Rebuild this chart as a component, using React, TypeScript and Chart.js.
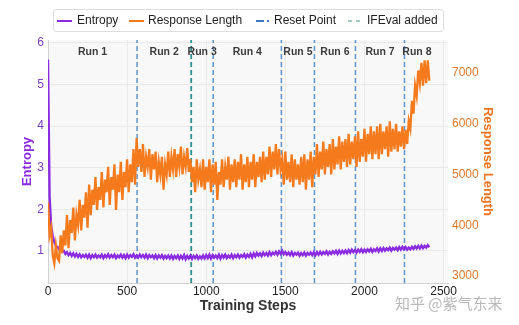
import React, { useEffect, useRef } from 'react';
import { Chart, registerables } from 'chart.js';

Chart.register(...registerables);

// ---- data ----
const STEP_INTERVAL = 10; // logged every 10 training steps, starting at step 0

const ENTROPY = [
  5.6, 2.3, 1.6, 1.35, 1.22, 1.12, 1.1, 1.04, 1.06, 0.98,
  1.0, 0.93, 0.97, 0.9, 0.95, 0.88, 0.94, 0.87, 0.93, 0.86,
  0.92, 0.85, 0.9, 0.86, 0.91, 0.84, 0.91, 0.83, 0.9, 0.85,
  0.91, 0.84, 0.89, 0.85, 0.91, 0.83, 0.9, 0.85, 0.92, 0.84,
  0.9, 0.85, 0.91, 0.83, 0.89, 0.85, 0.91, 0.84, 0.9, 0.83,
  0.91, 0.84, 0.9, 0.86, 0.92, 0.84, 0.89, 0.84, 0.91, 0.85,
  0.9, 0.84, 0.91, 0.83, 0.9, 0.85, 0.89, 0.83, 0.9, 0.82,
  0.89, 0.84, 0.9, 0.82, 0.88, 0.83, 0.89, 0.82, 0.89, 0.81,
  0.88, 0.83, 0.89, 0.81, 0.88, 0.82, 0.9, 0.8, 0.88, 0.82,
  0.89, 0.81, 0.88, 0.83, 0.89, 0.81, 0.87, 0.82, 0.89, 0.82,
  0.9, 0.83, 0.91, 0.82, 0.9, 0.84, 0.89, 0.83, 0.91, 0.82,
  0.9, 0.84, 0.91, 0.83, 0.89, 0.84, 0.91, 0.83, 0.9, 0.85,
  0.91, 0.84, 0.9, 0.86, 0.92, 0.84, 0.91, 0.86, 0.93, 0.85,
  0.94, 0.87, 0.95, 0.89, 0.94, 0.88, 0.96, 0.9, 0.95, 0.89,
  0.97, 0.9, 0.96, 0.92, 0.98, 0.91, 0.99, 0.93, 1.0, 0.92,
  0.97, 0.91, 0.96, 0.9, 0.97, 0.89, 0.95, 0.91, 0.96, 0.89,
  0.95, 0.9, 0.96, 0.89, 0.95, 0.91, 0.96, 0.9, 0.97, 0.9,
  0.97, 0.91, 0.98, 0.92, 0.97, 0.93, 0.99, 0.92, 0.98, 0.93,
  0.99, 0.94, 1.0, 0.93, 1.01, 0.94, 1.0, 0.95, 1.01, 0.95,
  1.02, 0.96, 1.03, 0.97, 1.02, 0.96, 1.03, 0.98, 1.04, 0.97,
  1.03, 0.98, 1.04, 0.99, 1.05, 0.98, 1.04, 1.0, 1.06, 0.99,
  1.06, 1.0, 1.07, 1.01, 1.06, 1.02, 1.08, 1.01, 1.07, 1.03,
  1.08, 1.02, 1.09, 1.03, 1.1, 1.04, 1.09, 1.03, 1.08, 1.04,
  1.1, 1.05, 1.11, 1.06, 1.12, 1.06, 1.13, 1.07, 1.12, 1.08,
  1.14, 1.09,
];

const RESPONSE_LENGTH = [
  4450, 3800, 3950, 3400, 3250, 3600, 3350, 3300, 3800, 3450,
  3900, 3600, 4200, 3550, 4100, 3850, 4350, 3700, 4200, 4000,
  4500, 3900, 4400, 4150, 4650, 3950, 4800, 4200, 4700, 4400,
  4950, 4300, 4750, 4500, 5050, 4350, 4900, 4650, 5150, 4400,
  4950, 4700, 5200, 4300, 5000, 4650, 5250, 4500, 5050, 4750,
  5300, 4650, 5200, 4850, 5500, 4800, 5720, 5150, 5500, 5050,
  5600, 4950, 5350, 5150, 5500, 4900, 5400, 5100, 5450, 4850,
  5250, 5000, 5350, 4700, 5200, 5000, 5450, 4950, 5350, 5100,
  5500, 4950, 5400, 5150, 5550, 5000, 5350, 5150, 5520, 5050,
  5300, 4850, 5150, 4650, 5300, 4900, 5100, 4750, 5300, 4700,
  5150, 4850, 5300, 4650, 5200, 4800, 5250, 4500, 5050, 4800,
  5300, 4750, 5150, 4900, 5350, 4700, 5200, 4850, 5300, 4750,
  5250, 4900, 5400, 4700, 5200, 4850, 5350, 4750, 5250, 4900,
  5400, 4750, 5250, 4950, 5350, 4850, 5450, 4900, 5350, 5000,
  5550, 4950, 5450, 5100, 5600, 5000, 5500, 5100, 5300, 4800,
  5450, 4900, 5250, 4850, 5400, 4750, 5300, 4900, 5200, 4800,
  5350, 4850, 5400, 4700, 5300, 4900, 5450, 4750, 5350, 5000,
  5600, 4950, 5450, 5100, 5650, 5000, 5500, 5150, 5600, 5000,
  5700, 5100, 5550, 5200, 5750, 5100, 5650, 5250, 5700, 5150,
  5800, 5200, 5650, 5300, 5750, 5150, 5850, 5250, 5700, 5350,
  5900, 5250, 5800, 5400, 5950, 5300, 5850, 5400, 5950, 5300,
  6000, 5400, 5850, 5500, 5950, 5350, 6050, 5450, 5900, 5500,
  6000, 5450, 5850, 5550, 5950, 5500, 5880, 5600, 6050, 5900,
  6450, 6200, 6750, 6550, 7050, 6800, 7200, 6750, 7250, 6800,
  7250, 6850,
];

const RESET_STEPS = [563, 1044, 1475, 1684, 1943, 2253];
const IFEVAL_STEPS = [905];
const RUN_LABELS = ['Run 1', 'Run 2', 'Run 3', 'Run 4', 'Run 5', 'Run 6', 'Run 7', 'Run 8'];
const RUN_BOUNDARIES = [0, 563, 905, 1044, 1475, 1684, 1943, 2253, 2410];

const X_TICKS = [0, 500, 1000, 1500, 2000, 2500];
const ENTROPY_TICKS = [1, 2, 3, 4, 5, 6];
const LENGTH_TICKS = [3000, 4000, 5000, 6000, 7000];
const X_RANGE = [0, 2528];
const ENTROPY_RANGE = [0.23, 6.07];
const LENGTH_RANGE = [2862, 7650];

const LEGEND_LABELS = ['Entropy', 'Response Length', 'Reset Point', 'IFEval added'];
const WATERMARK = '知乎 @紫气东来';

// ---- styles ----
const PURPLE = '#8a2be2';
const ORANGE = '#f57a1c';
const RESET_COLOR = 'rgba(74,138,196,0.9)';
const IFEVAL_COLOR = 'rgba(38,140,140,0.95)';
const FONT = "'Liberation Sans', Arial, sans-serif";

function vlineData(steps: number[]) {
  const pts: any[] = [];
  steps.forEach((s) => {
    pts.push({ x: s, y: ENTROPY_RANGE[0] });
    pts.push({ x: s, y: ENTROPY_RANGE[1] });
    pts.push({ x: s, y: null });
  });
  return pts;
}

const bgPlugin = {
  id: 'plotBg',
  beforeDraw(chart: any) {
    const { ctx, chartArea } = chart;
    ctx.save();
    ctx.fillStyle = '#f8f8f8';
    ctx.fillRect(chartArea.left, chartArea.top, chartArea.right - chartArea.left, chartArea.bottom - chartArea.top);
    ctx.restore();
  },
};

const runLabelPlugin = {
  id: 'runLabels',
  afterDatasetsDraw(chart: any) {
    const { ctx, chartArea, scales } = chart;
    ctx.save();
    ctx.font = `bold 10.5px ${FONT}`;
    ctx.fillStyle = '#3c3c3c';
    ctx.textAlign = 'center';
    ctx.textBaseline = 'middle';
    RUN_LABELS.forEach((lab, i) => {
      const mid = (RUN_BOUNDARIES[i] + RUN_BOUNDARIES[i + 1]) / 2;
      ctx.fillText(lab, scales.x.getPixelForValue(mid), chartArea.top + 12);
    });
    ctx.restore();
  },
};

function Legend() {
  const items = [
    { label: LEGEND_LABELS[0], color: PURPLE, dash: '', w: 2, lx: 57, tx: 77, op: 1 },
    { label: LEGEND_LABELS[1], color: ORANGE, dash: '', w: 2, lx: 129, tx: 148, op: 1 },
    { label: LEGEND_LABELS[2], color: '#3f78c0', dash: '8 3 2 10', w: 2, lx: 256, tx: 274, op: 1 },
    { label: LEGEND_LABELS[3], color: '#5aa9a0', dash: '4 4', w: 1.6, lx: 348, tx: 367, op: 0.8 },
  ];
  return (
    <div
      style={{
        position: 'absolute', left: 53, top: 9, width: 389, height: 21,
        border: '1px solid #dedede', borderRadius: 3, background: '#fff', boxSizing: 'content-box',
      }}
    >
      {items.map((it) => (
        <React.Fragment key={it.label}>
          <svg width={15} height={6} style={{ position: 'absolute', left: it.lx - 54, top: 8 }}>
            <line x1={0} y1={3} x2={15} y2={3} stroke={it.color} strokeWidth={it.w}
              strokeDasharray={it.dash || undefined} opacity={it.op} />
          </svg>
          <span
            style={{
              position: 'absolute', left: it.tx - 54, top: 0, height: 21, lineHeight: '21px',
              fontFamily: FONT, fontSize: 12, color: '#222', whiteSpace: 'nowrap',
            }}
          >
            {it.label}
          </span>
        </React.Fragment>
      ))}
    </div>
  );
}

const plainTick = (v: any) => String(v);

export default function App() {
  const canvasRef = useRef<HTMLCanvasElement | null>(null);

  useEffect(() => {
    const canvas = canvasRef.current;
    if (!canvas) return;
    const entropyPts = ENTROPY.map((v, i) => ({ x: i * STEP_INTERVAL, y: v }));
    const lengthPts = RESPONSE_LENGTH.map((v, i) => ({ x: i * STEP_INTERVAL, y: v }));

    const chart = new Chart(canvas, {
      type: 'line',
      data: {
        datasets: [
          {
            label: LEGEND_LABELS[0], data: entropyPts, yAxisID: 'y', borderColor: PURPLE,
            borderWidth: 2.4, pointRadius: 0, tension: 0, order: 2,
          },
          {
            label: LEGEND_LABELS[1], data: lengthPts, yAxisID: 'y1', borderColor: ORANGE,
            borderWidth: 2.3, pointRadius: 0, tension: 0, order: 0,
          },
          {
            label: LEGEND_LABELS[2], data: vlineData(RESET_STEPS), yAxisID: 'y', borderColor: RESET_COLOR,
            borderWidth: 1.5, borderDash: [5, 3], pointRadius: 0, spanGaps: false, order: 3,
          },
          {
            label: LEGEND_LABELS[3], data: vlineData(IFEVAL_STEPS), yAxisID: 'y', borderColor: IFEVAL_COLOR,
            borderWidth: 1.8, borderDash: [5, 3], pointRadius: 0, spanGaps: false, order: 3,
          },
        ] as any,
      },
      options: {
        animation: false,
        responsive: false,
        devicePixelRatio: 1,
        events: [],
        layout: { padding: { top: 40, left: 0, right: 0, bottom: 0 } },
        plugins: { legend: { display: false }, tooltip: { enabled: false } },
        scales: {
          x: {
            type: 'linear', min: X_RANGE[0], max: X_RANGE[1],
            afterBuildTicks: (s: any) => { s.ticks = X_TICKS.map((v) => ({ value: v })); },
            afterFit: (s: any) => { s.height = 42; },
            ticks: { color: '#222', font: { family: FONT, size: 12 }, padding: 1, maxRotation: 0, callback: plainTick },
            grid: { color: '#ebebeb', drawTicks: false },
            border: { display: true, color: '#d0d0d0' },
            title: {
              display: true, text: 'Training Steps', color: '#333',
              font: { family: FONT, size: 14, weight: 'bold' }, padding: { top: 0, bottom: 10.6 },
            },
          },
          y: {
            type: 'linear', position: 'left', min: ENTROPY_RANGE[0], max: ENTROPY_RANGE[1],
            afterBuildTicks: (s: any) => { s.ticks = ENTROPY_TICKS.map((v) => ({ value: v })); },
            afterFit: (s: any) => { s.width = 48; },
            ticks: { color: '#7b3fc0', font: { family: FONT, size: 12 }, padding: 4, callback: plainTick },
            grid: { color: '#e8e8e8', drawTicks: false },
            border: { display: true, color: '#d0d0d0' },
            title: {
              display: true, text: 'Entropy', color: PURPLE,
              font: { family: FONT, size: 13, weight: 'bold' }, padding: { top: 20, bottom: 0 },
            },
          },
          y1: {
            type: 'linear', position: 'right', min: LENGTH_RANGE[0], max: LENGTH_RANGE[1],
            afterBuildTicks: (s: any) => { s.ticks = LENGTH_TICKS.map((v) => ({ value: v })); },
            afterFit: (s: any) => { s.width = 71; },
            ticks: { color: '#e0782c', font: { family: FONT, size: 12 }, padding: 4, callback: plainTick },
            grid: { display: false, drawTicks: false },
            border: { display: false },
            title: {
              display: true, text: 'Response Length', color: '#ef7420',
              font: { family: FONT, size: 13, weight: 'bold' }, padding: { top: 24, bottom: 0 },
            },
          },
        },
      } as any,
      plugins: [bgPlugin, runLabelPlugin],
    });
    return () => chart.destroy();
  }, []);

  return (
    <div style={{ position: 'fixed', left: 0, top: 0, width: 519, height: 325, overflow: 'hidden', background: '#fff' }}>
      <canvas ref={canvasRef} width={519} height={325} style={{ display: 'block', width: 519, height: 325 }} />
      <Legend />
      <div
        style={{
          position: 'absolute', left: 395, top: 292, fontFamily: "'Noto Sans CJK SC', sans-serif",
          fontSize: 15, color: 'rgba(160,160,160,0.75)', whiteSpace: 'nowrap',
        }}
      >
        {WATERMARK}
      </div>
    </div>
  );
}
